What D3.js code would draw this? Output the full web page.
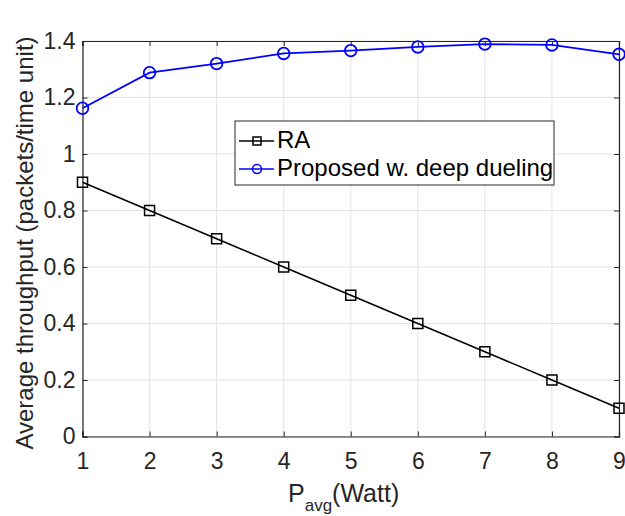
<!DOCTYPE html>
<html>
<head>
<meta charset="utf-8">
<script src="https://cdn.jsdelivr.net/npm/d3@7"></script>
<style>
  body { margin: 0; background: #fff; }
  text { font-family: "Liberation Sans", Arial, sans-serif; fill: #262626; }
</style>
</head>
<body>
<script>
const powers = [1, 2, 3, 4, 5, 6, 7, 8, 9];
const raValues = [0.9, 0.8, 0.7, 0.6, 0.5, 0.4, 0.3, 0.2, 0.1];
const duelingValues = [1.162, 1.288, 1.320, 1.356, 1.366, 1.379, 1.389, 1.386, 1.353];
const yTicks = [0, 0.2, 0.4, 0.6, 0.8, 1, 1.2, 1.4];
const seriesNames = ["RA", "Proposed w. deep dueling"];

const w = 625, h = 516;
const mLeft = 82.5, mRight = 619, mTop = 41, mBottom = 436.5;

const svg = d3.select("body").append("svg")
    .attr("width", w)
    .attr("height", h);

const x = d3.scaleLinear().domain([1, 9]).range([mLeft, mRight]);
const y = d3.scaleLinear().domain([0, 1.4]).range([mBottom, mTop]);

// grid
svg.append("g").selectAll("line")
    .data(powers)
    .enter().append("line")
    .attr("x1", d => x(d)).attr("x2", d => x(d))
    .attr("y1", mTop).attr("y2", mBottom)
    .attr("stroke", "#e3e3e3").attr("stroke-width", 1);

svg.append("g").selectAll("line")
    .data(yTicks)
    .enter().append("line")
    .attr("x1", mLeft).attr("x2", mRight)
    .attr("y1", d => y(d)).attr("y2", d => y(d))
    .attr("stroke", "#e3e3e3").attr("stroke-width", 1);

// axes with inner ticks
const axisColor = "#262626";
const tk = 5;

const xb = svg.append("g").attr("transform", `translate(0,${mBottom})`)
    .call(d3.axisBottom(x).tickValues(powers).tickSize(-tk).tickPadding(16).tickFormat(d3.format("d")));
const xt = svg.append("g").attr("transform", `translate(0,${mTop})`)
    .call(d3.axisTop(x).tickValues(powers).tickSize(-tk).tickFormat(""));
const yl = svg.append("g").attr("transform", `translate(${mLeft},0)`)
    .call(d3.axisLeft(y).tickValues(yTicks).tickSize(-tk).tickPadding(7).tickFormat(d => d3.format("")(d)));
const yr = svg.append("g").attr("transform", `translate(${mRight},0)`)
    .call(d3.axisRight(y).tickValues(yTicks).tickSize(-tk).tickFormat(""));

[xb, xt, yl, yr].forEach(g => {
    g.attr("font-size", 23).attr("font-family", "Liberation Sans, Arial, sans-serif");
    g.select(".domain").attr("stroke", axisColor).attr("stroke-width", 1.2);
    g.selectAll(".tick line").attr("stroke", axisColor);
    g.selectAll(".tick text").attr("fill", axisColor);
});

// lines
const line = d3.line().x(d => x(d[0])).y(d => y(d[1]));

const raData = powers.map((p, i) => [p, raValues[i]]);
const duelData = powers.map((p, i) => [p, duelingValues[i]]);

svg.append("path").datum(raData)
    .attr("d", line).attr("fill", "none").attr("stroke", "#000").attr("stroke-width", 1.5);
svg.append("g").selectAll("rect")
    .data(raData)
    .enter().append("rect")
    .attr("x", d => x(d[0]) - 5).attr("y", d => y(d[1]) - 5)
    .attr("width", 10).attr("height", 10)
    .attr("fill", "none").attr("stroke", "#000").attr("stroke-width", 1.5);

svg.append("path").datum(duelData)
    .attr("d", line).attr("fill", "none").attr("stroke", "#0000ff").attr("stroke-width", 1.8);
svg.append("g").selectAll("circle")
    .data(duelData)
    .enter().append("circle")
    .attr("cx", d => x(d[0])).attr("cy", d => y(d[1]))
    .attr("r", 5.8)
    .attr("fill", "none").attr("stroke", "#0000ff").attr("stroke-width", 1.8);

// legend
const lg = svg.append("g");
lg.append("rect")
    .attr("x", 235).attr("y", 121).attr("width", 319).attr("height", 64)
    .attr("fill", "#fff").attr("stroke", axisColor).attr("stroke-width", 1);

const legendRows = [
    {name: seriesNames[0], color: "#000", marker: "square", cy: 141},
    {name: seriesNames[1], color: "#0000ff", marker: "circle", cy: 169}
];
legendRows.forEach(r => {
    lg.append("line").attr("x1", 239).attr("x2", 274).attr("y1", r.cy).attr("y2", r.cy)
        .attr("stroke", r.color).attr("stroke-width", 1.5);
    if (r.marker === "square") {
        lg.append("rect").attr("x", 253).attr("y", r.cy - 4).attr("width", 8).attr("height", 8)
            .attr("fill", "none").attr("stroke", r.color).attr("stroke-width", 1.5);
    } else {
        lg.append("circle").attr("cx", 257).attr("cy", r.cy).attr("r", 4.5)
            .attr("fill", "none").attr("stroke", r.color).attr("stroke-width", 1.5);
    }
    lg.append("text").attr("x", 277).attr("y", r.cy + 6.5)
        .attr("font-size", "24px").style("fill", "#000").text(r.name);
});

// axis labels
const xl = svg.append("text")
    .attr("x", 288).attr("y", 502)
    .attr("font-size", "25px");
xl.append("tspan").text("P");
xl.append("tspan").attr("font-size", "17px").attr("dy", "9").text("avg");
xl.append("tspan").attr("dy", "-9").text("(Watt)");

svg.append("text")
    .attr("transform", `translate(33,243) rotate(-90)`)
    .attr("text-anchor", "middle").attr("font-size", "24px")
    .text("Average throughput (packets/time unit)");
</script>
</body>
</html>
